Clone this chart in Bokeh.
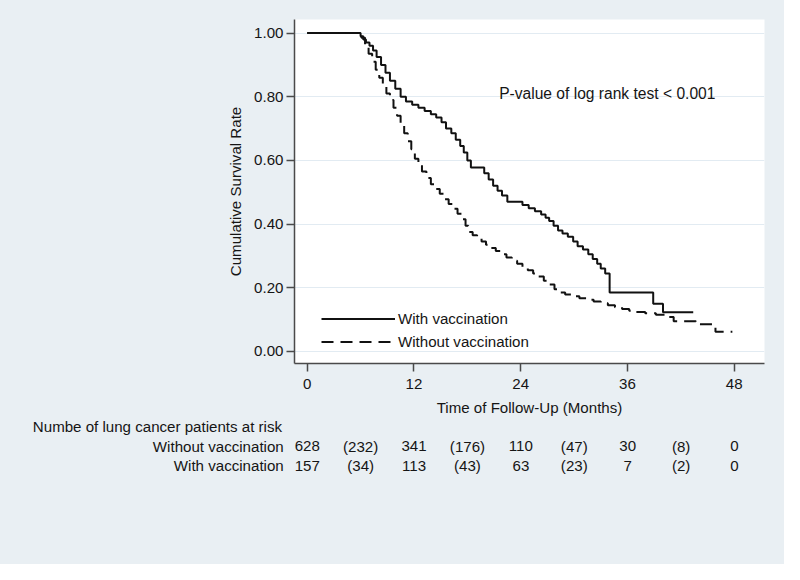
from bokeh.plotting import figure
from bokeh.layouts import column
from bokeh.models import (Range1d, FixedTicker, NumeralTickFormatter, Legend, LegendItem,
                          Label)
from bokeh.core.properties import value
from bokeh.embed import file_html
from bokeh.resources import INLINE

# ---------------- data ----------------
with_t = [0, 6.0, 6.3, 6.6, 7.0, 7.4, 7.8, 8.3, 8.8, 9.3, 9.9, 10.5, 11.1, 11.8, 12.5, 13.2,
          13.9, 14.5, 15.1, 15.6, 16.2, 16.7, 17.2, 17.6, 18.0, 18.4, 19.9, 20.4, 20.9, 21.4,
          21.9, 22.5, 24.2, 24.9, 25.6, 26.3, 26.8, 27.2, 27.7, 28.2, 28.7, 29.3, 29.9, 30.4,
          31.0, 31.6, 32.1, 32.6, 33.0, 33.5, 34.0, 38.9, 40.0, 43.4]
with_s = [1.0, 0.99, 0.98, 0.97, 0.96, 0.945, 0.925, 0.90, 0.875, 0.85, 0.825, 0.80, 0.785,
          0.775, 0.765, 0.755, 0.745, 0.735, 0.72, 0.70, 0.685, 0.665, 0.645, 0.625, 0.60,
          0.578, 0.56, 0.54, 0.52, 0.505, 0.49, 0.47, 0.46, 0.45, 0.44, 0.43, 0.42, 0.41,
          0.395, 0.38, 0.37, 0.36, 0.345, 0.33, 0.32, 0.305, 0.29, 0.275, 0.26, 0.245, 0.185,
          0.15, 0.123, 0.123]

without_t = [0, 6.1, 6.5, 6.9, 7.3, 7.7, 8.1, 8.5, 8.9, 9.3, 9.7, 10.1, 10.5, 10.9, 11.3, 11.7,
             12.1, 12.5, 12.9, 13.4, 13.9, 14.4, 14.9, 15.4, 15.9, 16.4, 16.9, 17.4, 17.8, 18.1,
             18.6, 19.1, 19.6, 20.1, 20.6, 21.2, 21.8, 22.4, 23.0, 23.6, 24.2, 24.8, 25.4, 26.0,
             26.6, 27.2, 27.8, 28.3, 29.0, 29.8, 30.6, 31.4, 32.2, 33.0, 33.8, 34.6, 35.4, 36.2,
             37.0, 38.0, 39.2, 40.2, 41.2, 43.7, 45.9, 47.8]
without_s = [1.0, 0.985, 0.96, 0.935, 0.91, 0.885, 0.86, 0.835, 0.81, 0.79, 0.765, 0.74, 0.715,
             0.685, 0.66, 0.635, 0.605, 0.585, 0.565, 0.545, 0.525, 0.51, 0.495, 0.478, 0.463,
             0.448, 0.432, 0.415, 0.395, 0.375, 0.365, 0.355, 0.345, 0.335, 0.325, 0.315, 0.305,
             0.295, 0.285, 0.275, 0.265, 0.255, 0.245, 0.235, 0.222, 0.21, 0.195, 0.185, 0.179,
             0.173, 0.167, 0.162, 0.157, 0.151, 0.145, 0.139, 0.133, 0.128, 0.124, 0.12, 0.115,
             0.108, 0.095, 0.085, 0.062, 0.062]

x_ticks = [0, 12, 24, 36, 48]
y_ticks = [0.0, 0.2, 0.4, 0.6, 0.8, 1.0]

risk_times = [0, 6, 12, 18, 24, 30, 36, 42, 48]
risk_without = ["628", "(232)", "341", "(176)", "110", "(47)", "30", "(8)", "0"]
risk_with = ["157", "(34)", "113", "(43)", "63", "(23)", "7", "(2)", "0"]

label_with = "With vaccination"
label_without = "Without vaccination"
table_title = "Numbe of lung cancer patients at risk"
pvalue_text = "P-value of log rank test < 0.001"

# ---------------- layout (reference 800x580 space, scaled to 784x564) ----------------
W, H = 784, 564
SX, SY = W / 800.0, H / 580.0
FRAME_L, FRAME_R, FRAME_T, FRAME_B = 300, 780, 20, 375   # reference pixels
SPLIT = 430                                                # main figure / risk table
X0_PX, PX_PER_MONTH = 313.0, 436.0 / 48.0
Y0_PX, PX_PER_UNIT = 362.5, 328.5

def t_of(px):
    return (px - X0_PX) / PX_PER_MONTH

def s_of(py):
    return (Y0_PX - py) / PX_PER_UNIT

H1 = int(round(SPLIT * SY))
H2 = H - H1

FONT = "Liberation Sans"
FS = "15.1px"
TXT = "#151515"
BG = "#e9eff3"
AX = "#4a4a4a"

p = figure(width=W, height=H1, output_backend="svg", toolbar_location=None,
           frame_align=False,
           x_range=Range1d(t_of(FRAME_L), t_of(FRAME_R)),
           y_range=Range1d(s_of(FRAME_B), s_of(FRAME_T)),
           min_border_left=int(round(FRAME_L * SX)),
           min_border_right=W - int(round(FRAME_R * SX)),
           min_border_top=int(round(FRAME_T * SY)),
           min_border_bottom=H1 - int(round(FRAME_B * SY)))
p.background_fill_color = "white"
p.border_fill_color = BG
p.outline_line_color = None

p.xgrid.grid_line_color = None
p.ygrid.grid_line_color = "#e2ebf2"
p.ygrid.grid_line_width = 1

for ax in (p.xaxis[0], p.yaxis[0]):
    ax.axis_line_color = AX
    ax.axis_line_width = 1.5
    ax.major_tick_line_color = AX
    ax.major_tick_line_width = 1.5
    ax.major_tick_out = 8
    ax.major_tick_in = 0
    ax.minor_tick_line_color = None
    ax.major_label_text_font = FONT
    ax.major_label_text_font_size = FS
    ax.major_label_text_color = TXT
    ax.axis_label_text_font = FONT
    ax.axis_label_text_font_size = FS
    ax.axis_label_text_font_style = "normal"
    ax.axis_label_text_color = TXT

p.xaxis.ticker = FixedTicker(ticks=x_ticks)
p.yaxis.ticker = FixedTicker(ticks=y_ticks)
p.yaxis.formatter = NumeralTickFormatter(format="0.00")
p.xaxis.axis_label = "Time of Follow-Up (Months)"
p.yaxis.axis_label = "Cumulative Survival Rate"
p.xaxis.major_label_standoff = 7
p.xaxis.axis_label_standoff = 7
p.yaxis.major_label_standoff = 3
p.yaxis.axis_label_standoff = 7

r_with = p.step(with_t, with_s, mode="after", line_color="#111111", line_width=2)
r_without = p.step(without_t, without_s, mode="after", line_color="#111111", line_width=2,
                   line_dash="12 7")

legend = Legend(items=[LegendItem(label=label_with, renderers=[r_with]),
                       LegendItem(label=label_without, renderers=[r_without])],
                location=(int(round(28 * SX)), int(round(12 * SY))), padding=0, margin=0,
                spacing=4, glyph_width=int(round(75 * SX)), glyph_height=19, label_height=19,
                label_standoff=3, label_text_font=FONT, label_text_font_size=FS,
                label_text_color=TXT, background_fill_alpha=0, border_line_color=None)
p.add_layout(legend, "center")

p.add_layout(Label(x=t_of(509), y=s_of(96), text=pvalue_text, text_font=FONT,
                   text_font_size="15.6px", text_color=TXT, text_baseline="middle"))

# ---------------- risk table (second figure, same horizontal time scale) ----------------
q = figure(width=W, height=H2, output_backend="svg", toolbar_location=None,
           frame_align=False,
           x_range=Range1d(t_of(0), t_of(800)),
           y_range=Range1d(580, SPLIT),
           x_axis_type=None, y_axis_type=None,
           min_border_left=0, min_border_right=0, min_border_top=0, min_border_bottom=0)
q.background_fill_color = BG
q.border_fill_color = BG
q.outline_line_color = None
q.grid.grid_line_color = None

ROW_TITLE, ROW_WITHOUT, ROW_WITH = 438.5, 458.5, 478.5   # reference pixel rows
txt_kw = dict(text_font=value(FONT), text_font_size=value(FS), text_color=TXT,
              text_baseline="middle")
q.text(x=[t_of(33)], y=[ROW_TITLE], text=[table_title], text_align="left", **txt_kw)
q.text(x=[t_of(289), t_of(289)], y=[ROW_WITHOUT, ROW_WITH],
       text=[label_without, label_with], text_align="right", **txt_kw)
q.text(x=risk_times, y=[ROW_WITHOUT] * len(risk_times), text=risk_without,
       text_align="center", **txt_kw)
q.text(x=risk_times, y=[ROW_WITH] * len(risk_times), text=risk_with,
       text_align="center", **txt_kw)

layout = column(p, q, spacing=0, styles={"background-color": BG})
open("out.html", "w").write(file_html(layout, INLINE))
